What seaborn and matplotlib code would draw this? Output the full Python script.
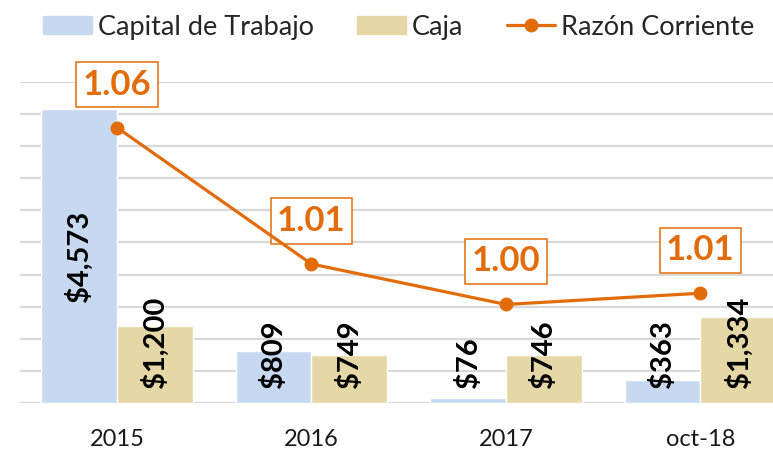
import pandas as pd
import seaborn as sns
import matplotlib.pyplot as plt
from matplotlib.lines import Line2D
from matplotlib.patches import Patch

periodos = ['2015', '2016', '2017', 'oct-18']
capital_trabajo = [4573, 809, 76, 363]
caja = [1200, 749, 746, 1334]
razon_corriente = [1.0573, 1.0148, 1.0022, 1.0057]

azul = '#C6D9F0'
beige = '#E6D8A6'
naranja = '#E36C0A'

df = pd.DataFrame({
    'Periodo': periodos * 2,
    'Serie': ['Capital de Trabajo'] * 4 + ['Caja'] * 4,
    'Valor': capital_trabajo + caja,
})

sns.set_style('white')
plt.rcParams['font.family'] = ['Lato', 'DejaVu Sans']

fig = plt.figure(figsize=(7.73, 4.54), dpi=100)
ax = fig.add_axes([20 / 773, 51 / 454, 753 / 773, 321 / 454])

sns.barplot(data=df, x='Periodo', y='Valor', hue='Serie', order=periodos,
            hue_order=['Capital de Trabajo', 'Caja'], palette=[azul, beige],
            width=0.78, saturation=1, legend=False, ax=ax, zorder=2)

ax.set_ylim(0, 5000)
ax.set_xlim(-0.4987, 3.373)
ax.set_yticks(range(0, 5001, 500))
ax.set_yticklabels([])
ax.yaxis.grid(True, color='#D9D9D9', linewidth=1.6, zorder=0)
ax.set_axisbelow(True)
ax.tick_params(axis='y', left=False, length=0)
ax.tick_params(axis='x', bottom=False, length=0, labelsize=17, pad=19, colors='#1a1a1a')
ax.set_xlabel('')
ax.set_ylabel('')
for s in ax.spines.values():
    s.set_visible(False)

# etiquetas de barras
for patch_list, vals in [(ax.containers[0], capital_trabajo), (ax.containers[1], caja)]:
    for p, v in zip(patch_list, vals):
        xc = p.get_x() + p.get_width() / 2
        if v > 3000:
            ax.text(xc, v / 2, f'${v:,}', rotation=90, ha='center', va='center',
                    fontsize=21, fontweight='bold', color='black', zorder=5)
        else:
            ax.text(xc, 230, f'${v:,}', rotation=90, ha='center', va='bottom',
                    fontsize=21, fontweight='bold', color='black', zorder=5)

# razon corriente
ax2 = ax.twinx()
ax2.plot(range(len(periodos)), razon_corriente, color=naranja, linewidth=2.3,
         marker='o', markersize=9, zorder=4)
ax2.set_ylim(0.9715, 1.0715)
ax2.axis('off')
for i, v in enumerate(razon_corriente):
    ax2.annotate(f'{v:.2f}', (i, v), xytext=(0, 31), textcoords='offset points',
                 ha='center', va='center', fontsize=25, fontweight='bold', color=naranja,
                 bbox=dict(boxstyle='square,pad=0.19', fc='white', ec=naranja, lw=1.1))

handles = [Patch(color=azul, label='Capital de Trabajo'),
           Patch(color=beige, label='Caja'),
           Line2D([0], [0], color=naranja, lw=2.3, marker='o', markersize=9,
                  label='Razón Corriente')]
fig.legend(handles=handles, loc='center', bbox_to_anchor=(0.516, 0.9405), ncol=3,
           frameon=False, fontsize=19.5, handlelength=1.8, handleheight=0.6,
           columnspacing=1.6, handletextpad=0.22, borderpad=0)

fig.savefig('out.png', dpi=100)
